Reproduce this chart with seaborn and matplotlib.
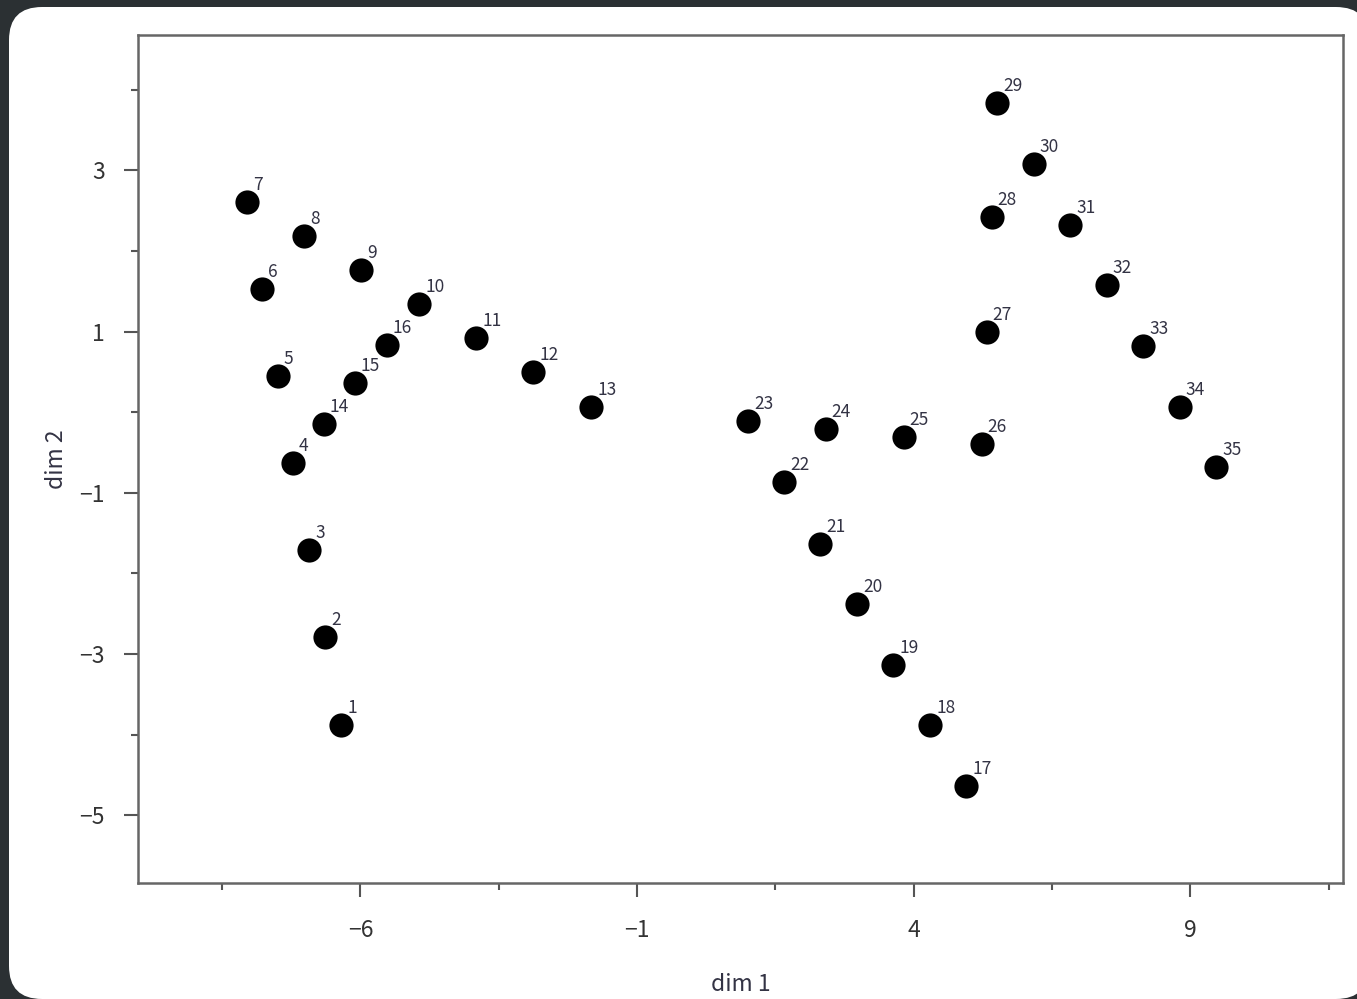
import numpy as np
import pandas as pd
import seaborn as sns
import matplotlib.pyplot as plt
from matplotlib.patches import FancyBboxPatch

# point coordinates
ids = list(range(1, 36))
dim1 = [-6.35, -6.64, -6.93, -7.22, -7.49, -7.78, -8.05, -7.02, -5.99, -4.94,
        -3.91, -2.88, -1.83, -6.66, -6.10, -5.52, 4.95, 4.30, 3.63, 2.98,
        2.31, 1.66, 1.01, 2.41, 3.82, 5.23, 5.32, 5.41, 5.51, 6.17,
        6.83, 7.49, 8.15, 8.81, 9.47]
dim2 = [-3.88, -2.79, -1.71, -0.63, 0.45, 1.53, 2.61, 2.18, 1.76, 1.34,
        0.92, 0.50, 0.07, -0.14, 0.36, 0.84, -4.64, -3.88, -3.13, -2.38,
        -1.63, -0.87, -0.11, -0.21, -0.31, -0.40, 1.00, 2.42, 3.83, 3.08,
        2.32, 1.58, 0.82, 0.06, -0.68]

x_major = [-6, -1, 4, 9]
x_minor = [-8.5, -3.5, 1.5, 6.5, 11.5]
y_major = [3, 1, -1, -3, -5]
y_minor = [4, 2, 0, -2, -4]

df = pd.DataFrame({'id': ids, 'dim 1': dim1, 'dim 2': dim2})

sns.set_style("white")
plt.rcParams['font.family'] = ['Noto Sans CJK JP', 'DejaVu Sans']

fig = plt.figure(figsize=(13.57, 9.99), dpi=100, facecolor='#2b3033')
# white rounded card behind the plot
card = FancyBboxPatch((0.09, 0.0), 13.6, 9.92, boxstyle="round,pad=0,rounding_size=0.33",
                      transform=fig.dpi_scale_trans, facecolor='white', edgecolor='none', zorder=-10)
fig.patches.append(card)

ax = fig.add_axes([0.1017, 0.1161, 0.888, 0.8489])
ax.set_facecolor('white')
sns.scatterplot(data=df, x='dim 1', y='dim 2', s=260, color='black', edgecolor='black', ax=ax)

for i, a, b in zip(ids, dim1, dim2):
    ax.annotate(str(i), (a, b), xytext=(6, 8), textcoords='offset pixels',
                ha='left', va='bottom', fontsize=12.5, color='#333344')

ax.set_xlim(-10.02, 11.76)
ax.set_ylim(-5.84, 4.68)
ax.set_xticks(x_major)
ax.set_xticklabels([f'{v}'.replace('-', '\u2212') for v in x_major])
ax.set_xticks(x_minor, minor=True)
ax.set_yticks(y_major)
ax.set_yticklabels([f'{v}'.replace('-', '\u2212') for v in y_major])
ax.set_yticks(y_minor, minor=True)
ax.tick_params(which='major', direction='out', length=10, width=1.5, color='#555555',
               labelsize=16.5, labelcolor='#333333', pad=16, bottom=True, left=True)
ax.tick_params(which='minor', direction='out', length=5, width=1.5, color='#555555',
               bottom=True, left=True)
ax.tick_params(axis='y', which='major', pad=14)
for sp in ax.spines.values():
    sp.set_visible(True)
    sp.set_color('#666666')
    sp.set_linewidth(1.8)

ax.set_xlabel('dim 1', fontsize=16.5, color='#333344', labelpad=22)
ax.set_ylabel('dim 2', fontsize=16.5, color='#333344', labelpad=8)

fig.savefig('out.png', dpi=100, facecolor=fig.get_facecolor())
